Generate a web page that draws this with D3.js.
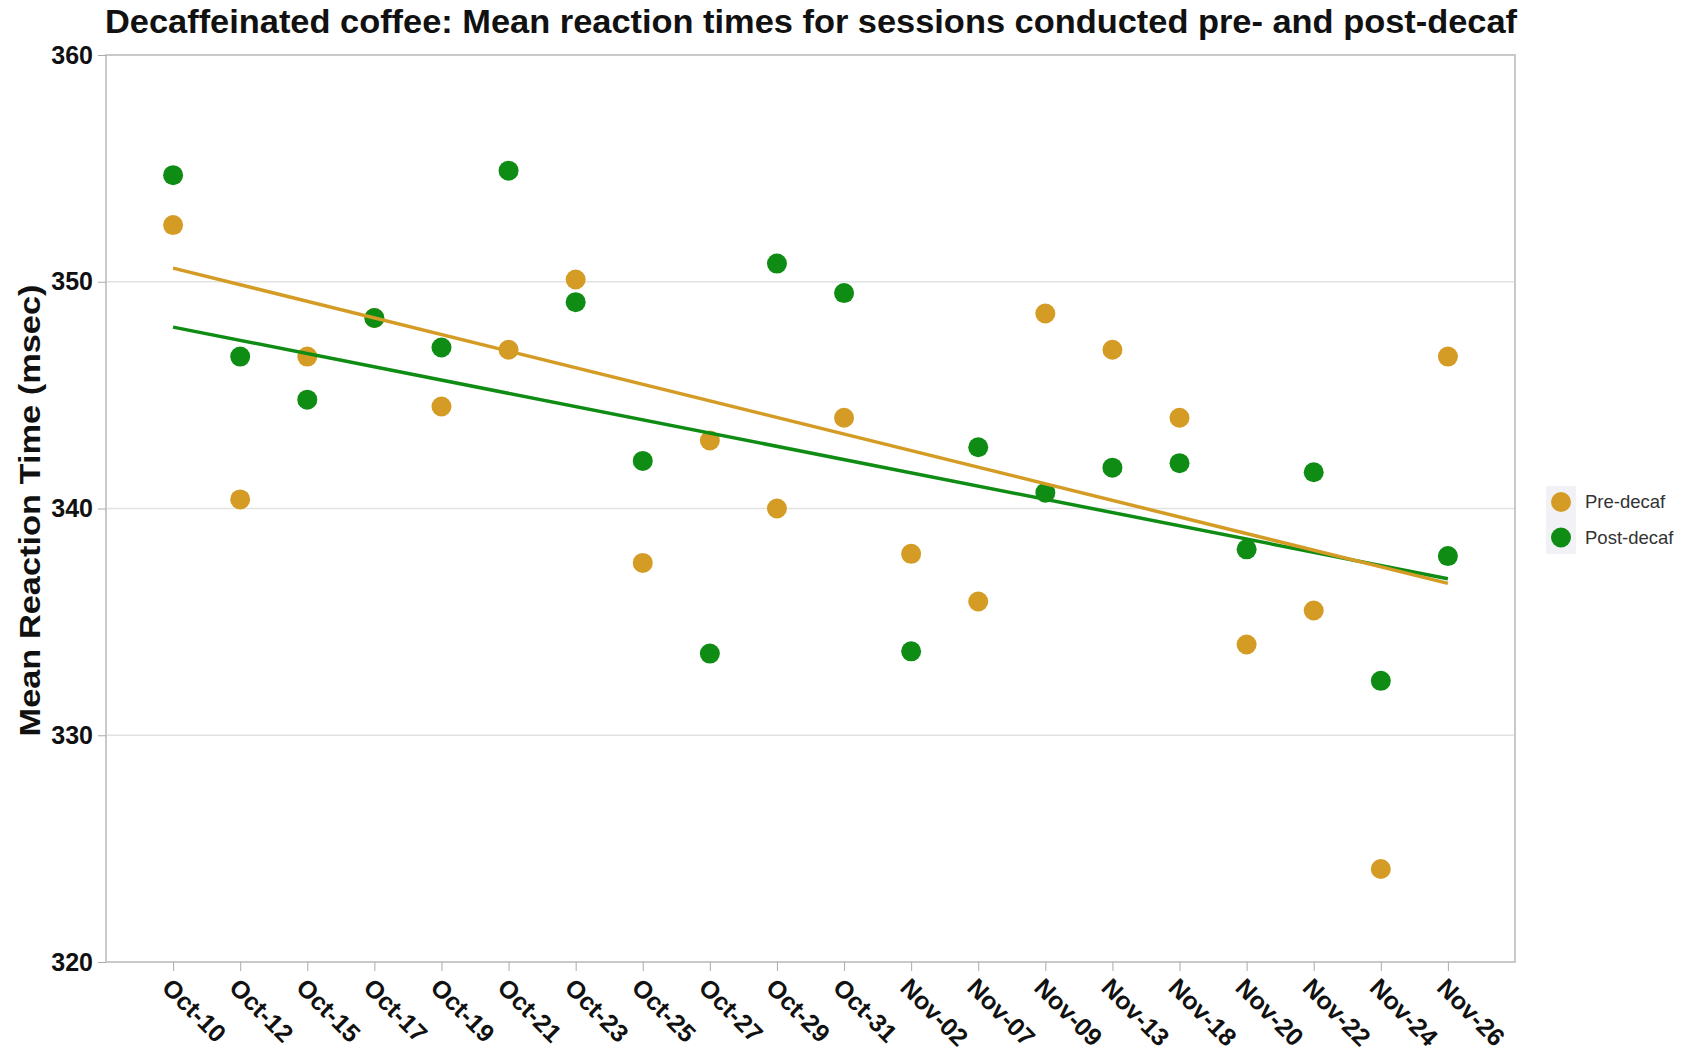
<!DOCTYPE html>
<html lang="en">

<head>
    <meta charset="UTF-8">
    <script src="https://d3js.org/d3.v7.min.js"></script>
    <title>Decaf reaction times</title>
    <style>
        body { margin: 0; background: #fff; }
    </style>
</head>

<body>
    <div id="chart"></div>
    <script>
        // sessions (x categories)
        const sessions = ["Oct-10", "Oct-12", "Oct-15", "Oct-17", "Oct-19", "Oct-21", "Oct-23", "Oct-25", "Oct-27", "Oct-29",
            "Oct-31", "Nov-02", "Nov-07", "Nov-09", "Nov-13", "Nov-18", "Nov-20", "Nov-22", "Nov-24", "Nov-26"];

        const preDecaf = [352.5, 340.4, 346.7, 348.4, 344.5, 347.0, 350.1, 337.6, 343.0, 340.0,
            344.0, 338.0, 335.9, 348.6, 347.0, 344.0, 334.0, 335.5, 324.1, 346.7];

        const postDecaf = [354.7, 346.7, 344.8, 348.4, 347.1, 354.9, 349.1, 342.1, 333.6, 350.8,
            349.5, 333.7, 342.7, 340.7, 341.8, 342.0, 338.2, 341.6, 332.4, 337.9];

        // trend line values at first and last session
        const preTrend = [350.6, 336.7];
        const postTrend = [348.0, 336.9];

        const yTicks = [320, 330, 340, 350, 360];
        const seriesNames = ["Pre-decaf", "Post-decaf"];

        const width = 1696, height = 1056;
        const marginLeft = 106, marginRight = 181, marginTop = 55, marginBottom = 94;
        const orange = "#d49c25", green = "#0f8c14";
        const font = "'Liberation Sans', Arial, sans-serif";

        const svg = d3.select("#chart").append("svg")
            .attr("width", width)
            .attr("height", height)
            .attr("viewBox", [0, 0, width, height])
            .style("font-family", font);

        const x = d3.scalePoint(sessions, [marginLeft, width - marginRight]).padding(1);
        const y = d3.scaleLinear([320, 360], [height - marginBottom, marginTop]);

        // title
        svg.append("text")
            .attr("x", 105)
            .attr("y", 33)
            .attr("font-size", 34)
            .attr("font-weight", "bold")
            .attr("fill", "#111")
            .attr("textLength", 1412)
            .attr("lengthAdjust", "spacingAndGlyphs")
            .text("Decaffeinated coffee: Mean reaction times for sessions conducted pre- and post-decaf");

        // gridlines
        svg.append("g")
            .selectAll("line")
            .data(yTicks.slice(1, -1))
            .join("line")
            .attr("x1", marginLeft)
            .attr("x2", width - marginRight)
            .attr("y1", d => y(d))
            .attr("y2", d => y(d))
            .attr("stroke", "#e2e2e2")
            .attr("stroke-width", 1.5);

        // frame
        svg.append("rect")
            .attr("x", marginLeft)
            .attr("y", marginTop)
            .attr("width", width - marginLeft - marginRight)
            .attr("height", height - marginTop - marginBottom)
            .attr("fill", "none")
            .attr("stroke", "#c9c9c9")
            .attr("stroke-width", 2);

        // y axis
        svg.append("g")
            .attr("transform", `translate(${marginLeft},0)`)
            .call(d3.axisLeft(y).tickValues(yTicks).tickSize(8).tickPadding(5))
            .call(g => g.select(".domain").remove())
            .call(g => g.selectAll(".tick line").attr("stroke", "#aaa"))
            .call(g => g.selectAll(".tick text")
                .attr("font-size", 25)
                .attr("font-weight", "bold")
                .attr("fill", "#111")
                .attr("font-family", font));

        svg.append("text")
            .attr("transform", `translate(40,${(marginTop + height - marginBottom) / 2 + 2}) rotate(-90)`)
            .attr("text-anchor", "middle")
            .attr("font-size", 30)
            .attr("font-weight", "bold")
            .attr("fill", "#111")
            .attr("textLength", 452)
            .attr("lengthAdjust", "spacingAndGlyphs")
            .text("Mean Reaction Time (msec)");

        // x axis
        svg.append("g")
            .attr("transform", `translate(0,${height - marginBottom})`)
            .call(d3.axisBottom(x).tickSize(9).tickPadding(0))
            .call(g => g.select(".domain").remove())
            .call(g => g.selectAll(".tick line").attr("stroke", "#aaa"))
            .call(g => g.selectAll(".tick text")
                .attr("font-size", 25)
                .attr("font-weight", "bold")
                .attr("fill", "#111")
                .attr("font-family", font)
                .attr("text-anchor", "start")
                .attr("dy", 0)
                .attr("y", 0)
                .attr("transform", "translate(-13,27) rotate(45)"));

        // dots
        const series = [
            { name: seriesNames[0], values: preDecaf, trend: preTrend, color: orange },
            { name: seriesNames[1], values: postDecaf, trend: postTrend, color: green }
        ];

        series.forEach(s => {
            svg.append("g")
                .attr("fill", s.color)
                .selectAll("circle")
                .data(s.values)
                .join("circle")
                .attr("cx", (d, i) => x(sessions[i]))
                .attr("cy", d => y(d))
                .attr("r", 10);
        });

        // trend lines drawn over the dots
        [series[1], series[0]].forEach(s => {
            svg.append("line")
                .attr("x1", x(sessions[0]))
                .attr("x2", x(sessions[sessions.length - 1]))
                .attr("y1", y(s.trend[0]))
                .attr("y2", y(s.trend[1]))
                .attr("stroke", s.color)
                .attr("stroke-width", 3.5);
        });

        // legend
        const legend = svg.append("g").attr("transform", "translate(1561,502)");
        legend.append("rect")
            .attr("x", -15)
            .attr("y", -16)
            .attr("width", 30)
            .attr("height", 68)
            .attr("fill", "#f2f2f6");
        series.forEach((s, i) => {
            legend.append("circle")
                .attr("cx", 0)
                .attr("cy", i * 35.5)
                .attr("r", 10)
                .attr("fill", s.color);
            legend.append("text")
                .attr("x", 24)
                .attr("y", i * 35.5)
                .attr("dy", "0.35em")
                .attr("font-size", 18.5)
                .attr("fill", "#333")
                .text(s.name);
        });
    </script>
</body>

</html>
